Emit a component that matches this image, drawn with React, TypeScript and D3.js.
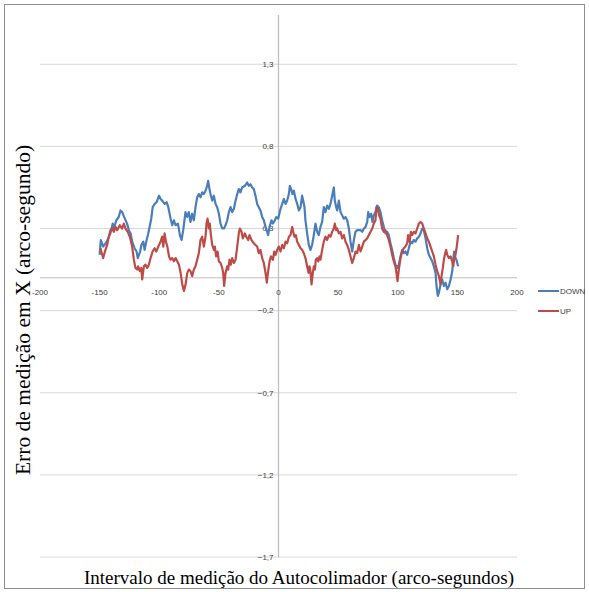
import React from "react";
import * as d3 from "d3";

// Angular positions (arco-segundos) and measured errors for the DOWN run
const downX = [-150, -149, -147, -144, -141, -139, -138, -136, -134, -132.5, -131, -130, -127, -125.5, -124, -122.7, -120.7, -119, -118, -116, -115, -113.4, -112.3, -110.6, -109.5, -107.8, -106.7, -105.5, -103.8, -102.2, -100.2, -98.9, -97.5, -95.5, -93.8, -92.4, -90.5, -89.1, -87.7, -86.3, -84.3, -82.7, -81.3, -79.9, -78, -76.6, -75.2, -73.8, -72.4, -71, -69.6, -68.2, -66.8, -65.4, -64, -62.6, -61.2, -59.8, -59, -57.9, -57, -55.6, -54.2, -52.8, -51.4, -50, -48.6, -47.2, -45.8, -44.4, -43, -41.6, -40.2, -38.8, -37.4, -36, -34.6, -33.3, -31.9, -30.5, -28.2, -26.3, -24.9, -23.5, -22.1, -20.7, -19.3, -17.9, -16.5, -15.1, -13.7, -12.3, -10.9, -9.5, -8.7, -7.5, -5.9, -4.7, -3.1, -1.9, -0.3, 1.7, 3.1, 4.5, 5.9, 7.3, 8.7, 9.5, 10.6, 11.7, 12.9, 14.3, 15.7, 17.1, 18.5, 19.8, 20.7, 21.8, 22.6, 24, 25.4, 26.8, 28.2, 29.6, 31, 32.4, 33.8, 35.2, 36.6, 38, 39.4, 40.8, 42.2, 43.6, 45, 46.4, 47.2, 48.4, 49.2, 50.6, 52, 53.4, 54.8, 56.2, 57.6, 59, 60.4, 61.8, 63.2, 64.6, 66, 68.8, 70.2, 71.6, 73, 74.4, 75.2, 76.3, 77.7, 78.8, 79.9, 81.3, 82.7, 84.1, 85.5, 86.9, 88.3, 89.7, 91.1, 92.5, 93.9, 95.3, 96.7, 98.1, 99.5, 100.9, 102.3, 103.7, 105.1, 106.5, 107.9, 109.3, 110.7, 112.1, 113.5, 114.9, 116.3, 117.7, 119.1, 120.5, 121.9, 123.3, 124.7, 126.1, 127.5, 128.9, 130.3, 131.7, 132.5, 133.6, 134.5, 135.9, 137.3, 138.7, 140.1, 141.5, 142.9, 144.3, 145.7, 146.5, 147.3, 148.4, 149.2, 150.6];
const downY = [0.14, 0.23, 0.19, 0.22, 0.27, 0.33, 0.3, 0.35, 0.37, 0.41, 0.4, 0.38, 0.33, 0.29, 0.27, 0.22, 0.18, 0.16, 0.12, 0.16, 0.2, 0.22, 0.17, 0.23, 0.26, 0.32, 0.36, 0.43, 0.45, 0.46, 0.5, 0.48, 0.47, 0.45, 0.46, 0.43, 0.36, 0.32, 0.35, 0.32, 0.33, 0.26, 0.23, 0.29, 0.4, 0.37, 0.4, 0.34, 0.39, 0.35, 0.43, 0.49, 0.51, 0.49, 0.52, 0.51, 0.53, 0.56, 0.59, 0.54, 0.51, 0.47, 0.5, 0.45, 0.43, 0.39, 0.33, 0.3, 0.3, 0.32, 0.35, 0.4, 0.43, 0.4, 0.42, 0.47, 0.51, 0.54, 0.52, 0.55, 0.56, 0.58, 0.56, 0.57, 0.55, 0.54, 0.5, 0.45, 0.43, 0.41, 0.37, 0.35, 0.31, 0.28, 0.26, 0.31, 0.35, 0.33, 0.35, 0.37, 0.36, 0.42, 0.45, 0.48, 0.45, 0.47, 0.51, 0.56, 0.54, 0.51, 0.53, 0.48, 0.45, 0.41, 0.43, 0.5, 0.47, 0.43, 0.35, 0.27, 0.2, 0.17, 0.2, 0.26, 0.33, 0.28, 0.26, 0.31, 0.34, 0.43, 0.4, 0.44, 0.42, 0.45, 0.5, 0.55, 0.47, 0.43, 0.41, 0.47, 0.4, 0.38, 0.36, 0.37, 0.35, 0.3, 0.22, 0.16, 0.23, 0.28, 0.29, 0.29, 0.28, 0.3, 0.31, 0.34, 0.4, 0.37, 0.39, 0.34, 0.38, 0.4, 0.44, 0.43, 0.4, 0.35, 0.31, 0.27, 0.28, 0.26, 0.21, 0.17, 0.12, 0.08, 0.06, 0.08, 0.13, 0.17, 0.15, 0.16, 0.14, 0.18, 0.22, 0.21, 0.23, 0.22, 0.24, 0.25, 0.27, 0.3, 0.29, 0.24, 0.18, 0.14, 0.12, 0.1, 0.07, 0.03, -0.05, -0.11, -0.09, -0.04, -0.01, -0.05, -0.03, -0.07, -0.05, -0.01, 0.04, 0.11, 0.16, 0.12, 0.11, 0.07];

// Angular positions (arco-segundos) and measured errors for the UP run
const upX = [-149.3, -147.1, -145.1, -143.7, -142.3, -140.9, -139.5, -138.1, -136.7, -135.3, -133.1, -131.1, -129.7, -128.3, -126.4, -124.7, -122.7, -121.3, -119.9, -118.5, -117.7, -116.3, -115.1, -114.3, -112.9, -111.5, -110.1, -108.7, -107.3, -105.6, -103.9, -102.5, -100.8, -98.9, -97.5, -96.6, -95.5, -94.4, -93.2, -91.8, -90.5, -89.1, -87.7, -86.3, -84.9, -83.5, -82.1, -80.7, -79.3, -77.9, -76.5, -75.2, -73.8, -72.4, -71, -69.6, -68.2, -66.8, -65.4, -64, -62.6, -61.2, -60.4, -59.5, -58.4, -57.6, -56.7, -55.6, -54.2, -53.4, -52.3, -51.1, -50, -48.6, -47.2, -46.4, -45.6, -44.4, -43, -42.2, -41.1, -40, -38.8, -37.4, -36, -34.6, -33.3, -32.4, -31, -29.9, -28.2, -27.1, -25.4, -24.3, -22.6, -20.7, -19.3, -17.9, -16.5, -15.1, -13.7, -12.3, -10.9, -9.8, -8.7, -7.5, -6.4, -4.7, -3.6, -2.5, -1.1, 0.3, 1.7, 3.1, 4.5, 5.9, 7.3, 8.7, 10.1, 11.5, 12.3, 13.4, 14.5, 15.7, 17.1, 18.5, 19.8, 21.2, 22.6, 24, 25.2, 26, 26.8, 27.7, 28.8, 29.6, 30.5, 31.3, 32.4, 33.3, 34.4, 35.2, 36.6, 38, 39.4, 40.8, 42.2, 43.6, 45, 46.4, 47.2, 48.4, 49.2, 50.6, 52, 53.4, 54.8, 56.2, 57.6, 59, 60.4, 61.8, 63.2, 64.6, 66, 67.4, 68.8, 70.2, 71.6, 73, 74.4, 75.8, 77.2, 78.6, 79.9, 81.3, 82.2, 83.3, 84.4, 85.5, 86.9, 88.3, 89.7, 91.1, 92.5, 93.9, 95.3, 96.7, 98.1, 98.9, 99.8, 100.9, 101.7, 102.6, 103.7, 105.1, 106.5, 107.9, 108.7, 109.9, 111, 112.1, 113.5, 114.9, 116.3, 117.7, 119.1, 120.5, 121.9, 123.3, 124.7, 126.1, 127.5, 128.9, 130.3, 131.7, 133.1, 134.5, 135.9, 136.7, 137.8, 138.7, 139.5, 140.6, 141.5, 142.9, 144.3, 145.7, 146.5, 147.3, 148.4, 149.5, 150.6];
const upY = [0.18, 0.12, 0.17, 0.2, 0.25, 0.29, 0.3, 0.28, 0.31, 0.29, 0.32, 0.3, 0.33, 0.3, 0.28, 0.25, 0.19, 0.11, 0.06, 0.05, 0.07, 0.04, 0.06, -0.01, 0.07, 0.08, 0.06, 0.08, 0.12, 0.16, 0.18, 0.16, 0.19, 0.22, 0.25, 0.19, 0.27, 0.22, 0.19, 0.13, 0.11, 0.12, 0.1, 0.12, 0.1, 0.08, 0.03, -0.04, -0.08, -0.04, 0.03, 0.05, 0.04, 0.01, 0.05, 0.07, 0.11, 0.15, 0.23, 0.25, 0.19, 0.25, 0.33, 0.36, 0.3, 0.33, 0.26, 0.2, 0.17, 0.19, 0.13, 0.16, 0.1, 0.09, 0.06, 0.03, -0.05, 0.03, 0.07, 0.05, 0.11, 0.08, 0.12, 0.09, 0.11, 0.19, 0.27, 0.3, 0.28, 0.24, 0.27, 0.25, 0.23, 0.26, 0.23, 0.21, 0.2, 0.19, 0.15, 0.17, 0.12, 0.09, 0.03, -0.03, 0.04, 0.1, 0.13, 0.11, 0.16, 0.14, 0.17, 0.19, 0.16, 0.2, 0.18, 0.22, 0.21, 0.25, 0.26, 0.31, 0.28, 0.25, 0.26, 0.22, 0.2, 0.18, 0.17, 0.15, 0.12, 0.07, 0.03, 0.07, 0.04, -0.04, 0.03, 0.07, 0.05, 0.11, 0.12, 0.1, 0.13, 0.11, 0.17, 0.22, 0.25, 0.23, 0.26, 0.25, 0.28, 0.3, 0.33, 0.29, 0.3, 0.27, 0.28, 0.24, 0.26, 0.22, 0.2, 0.17, 0.13, 0.09, 0.12, 0.16, 0.15, 0.2, 0.16, 0.19, 0.22, 0.23, 0.24, 0.26, 0.28, 0.3, 0.33, 0.35, 0.43, 0.42, 0.38, 0.36, 0.3, 0.28, 0.29, 0.26, 0.23, 0.19, 0.14, 0.1, 0.07, 0.03, -0.02, 0.05, 0.09, 0.13, 0.16, 0.18, 0.19, 0.21, 0.26, 0.22, 0.28, 0.26, 0.28, 0.27, 0.3, 0.33, 0.34, 0.33, 0.3, 0.27, 0.24, 0.22, 0.19, 0.16, 0.13, 0.08, 0.04, 0.01, -0.04, 0.01, 0.06, 0.11, 0.14, 0.17, 0.14, 0.12, 0.13, 0.1, 0.07, 0.11, 0.14, 0.19, 0.26];

const xTicks = [-200, -150, -100, -50, 0, 50, 100, 150, 200];
const yTicks = [1.3, 0.8, 0.3, -0.2, -0.7, -1.2, -1.7];

const seriesNames = ["DOWN", "UP"];
const seriesColors = ["#4a7ebb", "#be4b48"];

const xTitle = "Intervalo de medição do Autocolimador (arco-segundos)";
const yTitle = "Erro de medição em X (arco-segundo)";

const W = 589;
const H = 592;

export default function App() {
  const x = d3.scaleLinear().domain([-200, 200]).range([40, 517]);
  const y = d3.scaleLinear().domain([-1.7, 1.6]).range([557, 15]);

  const line = d3
    .line<[number, number]>()
    .x((d) => x(d[0]))
    .y((d) => y(d[1]));

  const downPts: [number, number][] = downX.map((v, i) => [v, downY[i]]);
  const upPts: [number, number][] = upX.map((v, i) => [v, upY[i]]);

  const fmt = (v: number) => d3.format(".1f")(v).replace(".", ",");
  const axisFont = "'Liberation Sans', Arial, sans-serif";
  const titleFont = "'Liberation Serif', 'Times New Roman', serif";

  return (
    <div style={{ position: "absolute", left: 0, top: 0 }}>
      <svg width={W} height={H} style={{ display: "block", background: "#fff" }}>
        <rect x={4.5} y={4.5} width={580} height={584} fill="#fff" stroke="#8c8c8c" strokeWidth={1} />

        {/* horizontal gridlines */}
        {yTicks.map((t) => (
          <line key={"g" + t} x1={x(-200)} x2={x(200)} y1={y(t)} y2={y(t)} stroke="#d9d9d9" strokeWidth={1} />
        ))}

        {/* axes crossing at the origin */}
        <line x1={x(-200)} x2={x(200)} y1={y(0)} y2={y(0)} stroke="#bfbfbf" strokeWidth={1} />
        <line x1={x(0)} x2={x(0)} y1={y(1.6)} y2={y(-1.7)} stroke="#bfbfbf" strokeWidth={1.3} />

        {/* y tick labels */}
        {yTicks.map((t) => (
          <text
            key={"yl" + t}
            x={x(0) - 5}
            y={y(t)}
            dy="0.35em"
            textAnchor="end"
            fontFamily={axisFont}
            fontSize={8}
            fill="#404040"
          >
            {fmt(t)}
          </text>
        ))}

        {/* x tick labels */}
        {xTicks.map((t) => (
          <text
            key={"xl" + t}
            x={x(t)}
            y={y(0) + 14}
            dy="0.35em"
            textAnchor="middle"
            fontFamily={axisFont}
            fontSize={8}
            fill="#404040"
          >
            {t}
          </text>
        ))}

        {/* series */}
        <path d={line(downPts) || ""} fill="none" stroke={seriesColors[0]} strokeWidth={2.2} strokeLinejoin="round" />
        <path d={line(upPts) || ""} fill="none" stroke={seriesColors[1]} strokeWidth={2.2} strokeLinejoin="round" />

        {/* legend */}
        {seriesNames.map((name, i) => (
          <g key={name} transform={`translate(538, ${291 + i * 20})`}>
            <line x1={0} x2={21} y1={0} y2={0} stroke={seriesColors[i]} strokeWidth={2} />
            <text x={22} y={0} dy="0.35em" fontFamily={axisFont} fontSize={8} fill="#404040">
              {name}
            </text>
          </g>
        ))}

        {/* axis titles */}
        <text
          x={299}
          y={584}
          textAnchor="middle"
          fontFamily={titleFont}
          fontSize={19}
          fill="#000"
        >
          {xTitle}
        </text>
        <text
          transform={`translate(30, 310) rotate(-90)`}
          textAnchor="middle"
          fontFamily={titleFont}
          fontSize={21.5}
          fill="#000"
        >
          {yTitle}
        </text>
      </svg>
    </div>
  );
}
